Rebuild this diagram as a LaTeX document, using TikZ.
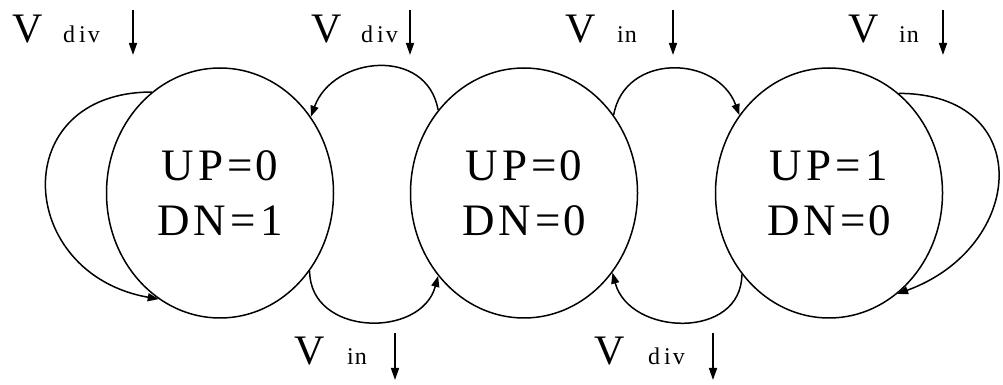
\documentclass[tikz,border=0pt]{standalone}
\usepackage{fontspec}
\setmainfont{Liberation Serif}
\usetikzlibrary{shapes.geometric,arrows.meta}
\begin{document}
\begin{tikzpicture}[x=1pt,y=1pt,
  state/.style={ellipse, draw, line width=1.5pt, minimum width=227pt, minimum height=250pt, inner sep=0pt, align=center, font=\fontsize{45}{55}\selectfont},
  conn/.style={line width=1.5pt, -{Triangle[length=11pt,width=8pt]}},
  bigv/.style={anchor=base west, inner sep=0pt, font=\fontsize{42}{42}\selectfont},
  subv/.style={anchor=base west, inner sep=0pt, font=\fontsize{24}{24}\selectfont},
  lblarrow/.style={line width=1.5pt, -{Triangle[length=12pt,width=8pt]}}]
\useasboundingbox (0,0) rectangle (1003,385);
% states
\node[state] (L) at (220,192) {U\kern4pt P\kern4pt =\kern3pt 0\\D\kern4pt N\kern4pt =\kern5pt 1};
\node[state] (M) at (524,192) {U\kern4pt P\kern4pt =\kern3pt 0\\D\kern4pt N\kern4pt =\kern3pt 0};
\node[state] (R) at (829,192) {U\kern4pt P\kern4pt =\kern5pt 1\\D\kern4pt N\kern4pt =\kern3pt 0};
% transitions
\draw[conn] (M.136) to[out=100,in=70,looseness=1.3] (L.40);
\draw[conn] (L.-41) to[out=-90,in=-105,looseness=1.3] (M.-136);
\draw[conn] (M.41) to[out=80,in=110,looseness=1.3] (R.139);
\draw[conn] (R.-137) to[out=-90,in=-75,looseness=1.3] (M.-42);
\draw[conn] (L.124) to[out=180,in=170,looseness=1.8] (L.240);
\draw[conn] (R.55) to[out=0,in=20,looseness=1.75] (R.-56);
% top labels
\node[bigv] (v1) at (12,342) {V};
\node[subv] (s1) at (63,342) {d\kern4pt i\kern2pt v};
\coordinate (a1t) at (133,375); \coordinate (a1b) at (133,330);
\draw[lblarrow] (a1t) -- (a1b);
\node[bigv] (v2) at (311,342) {V};
\node[subv] (s2) at (361,342) {d\kern4pt i\kern2pt v};
\coordinate (a2t) at (410,375); \coordinate (a2b) at (410,330);
\draw[lblarrow] (a2t) -- (a2b);
\node[bigv] (v3) at (565,342) {V};
\node[subv] (s3) at (617,342) {i\kern1pt n};
\coordinate (a3t) at (673,375); \coordinate (a3b) at (673,330);
\draw[lblarrow] (a3t) -- (a3b);
\node[bigv] (v4) at (848,342) {V};
\node[subv] (s4) at (899,342) {i\kern1pt n};
\coordinate (a4t) at (943,375); \coordinate (a4b) at (943,330);
\draw[lblarrow] (a4t) -- (a4b);
% bottom labels
\node[bigv] (v5) at (294,20) {V};
\node[subv] (s5) at (347,20) {i\kern1pt n};
\coordinate (a5t) at (395,52); \coordinate (a5b) at (395,5);
\draw[lblarrow] (a5t) -- (a5b);
\node[bigv] (v6) at (594,20) {V};
\node[subv] (s6) at (648,20) {d\kern4pt i\kern2pt v};
\coordinate (a6t) at (713,52); \coordinate (a6b) at (713,5);
\draw[lblarrow] (a6t) -- (a6b);
\end{tikzpicture}
\end{document}
